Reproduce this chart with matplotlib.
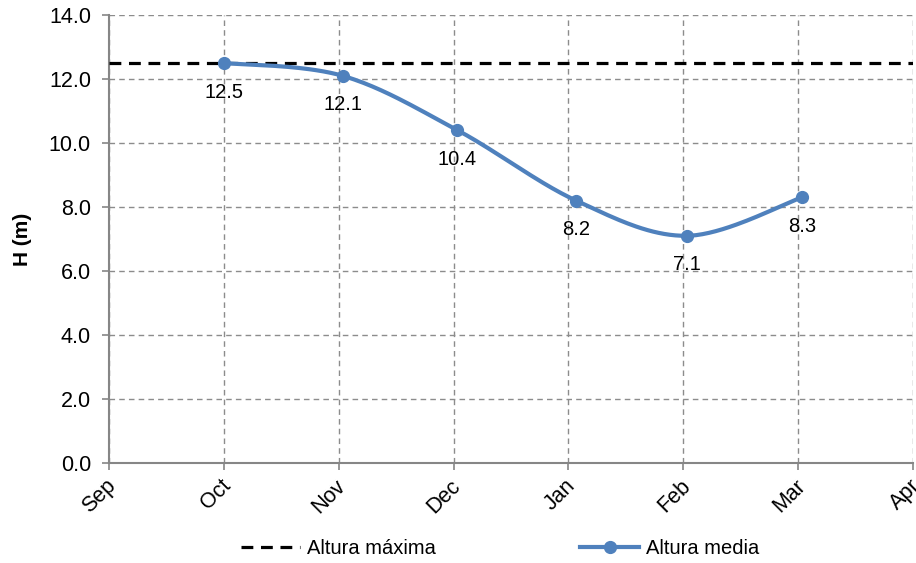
import numpy as np
import matplotlib.pyplot as plt
import matplotlib.transforms as mtransforms

plt.rcParams['font.family'] = ['Liberation Sans', 'DejaVu Sans']

# Meses del eje y medidas de altura
meses = ["Sep", "Oct", "Nov", "Dec", "Jan", "Feb", "Mar", "Apr"]
fechas_mes = [1, 2, 3, 4, 5, 6]          # mes de la medida (indice en meses)
fechas_dia = [1, 2, 2, 3, 2, 2]          # dia de la medida
altura_media = [12.5, 12.1, 10.4, 8.2, 7.1, 8.3]
altura_maxima = 12.5

azul = "#4F81BD"
gris = "#868686"

# posicion fraccionaria de cada medida dentro del mes
x = np.array(fechas_mes) + (np.array(fechas_dia) - 1) / 30.0
y = np.array(altura_media)


def suavizar(px, py, n=40):
    # curva suavizada tipo Excel (Bezier con tangentes Catmull-Rom)
    xs, ys = [], []
    pts = np.column_stack([px, py])
    for i in range(len(pts) - 1):
        p0 = pts[i - 1] if i > 0 else pts[i]
        p1 = pts[i]
        p2 = pts[i + 1]
        p3 = pts[i + 2] if i + 2 < len(pts) else pts[i + 1]
        c1 = p1 + (p2 - p0) / 6.0
        c2 = p2 - (p3 - p1) / 6.0
        t = np.linspace(0, 1, n)[:, None]
        b = ((1 - t) ** 3) * p1 + 3 * ((1 - t) ** 2) * t * c1 + 3 * (1 - t) * t ** 2 * c2 + t ** 3 * p2
        xs.extend(b[:, 0])
        ys.extend(b[:, 1])
    return np.array(xs), np.array(ys)


fig = plt.figure(figsize=(9.16, 5.63), dpi=100)
ax = fig.add_axes([0.119, 0.1776, 0.8777, 0.7958])

ax.set_xlim(0, 7)
ax.set_ylim(0, 14)

# rejilla discontinua
ax.set_xticks(range(len(meses)))
ax.set_yticks(np.arange(0, 14.1, 2))
ax.grid(True, color="#8c8c8c", linestyle=(0, (4, 3)), linewidth=1.0)
ax.set_axisbelow(True)

ax.axhline(altura_maxima, color="black", linewidth=2.3, dashes=(3.7, 2.4),
           label="Altura máxima", zorder=3)

xs, ys = suavizar(x, y)
ax.plot(xs, ys, color=azul, linewidth=3.0, zorder=4, solid_capstyle="round")
ax.plot(x, y, "o", color=azul, markersize=8.5, zorder=5)
ax.plot([], [], color=azul, linewidth=3.0, marker="o", markersize=8.5,
        label="Altura media")

for xi, yi in zip(x, y):
    ax.annotate("%.1f" % yi, (xi, yi), xytext=(0, -21), textcoords="offset points",
                ha="center", va="center", fontsize=14.5, color="black")

for lado in ["top", "right"]:
    ax.spines[lado].set_visible(False)
for lado in ["left", "bottom"]:
    ax.spines[lado].set_color(gris)
    ax.spines[lado].set_linewidth(1.5)

ax.tick_params(axis="both", direction="out", length=5, width=1.2, color=gris,
               labelsize=15.5, labelcolor="black")
ax.tick_params(axis="y", pad=8)
ax.set_yticklabels(["%.1f" % v for v in np.arange(0, 14.1, 2)])
ax.set_xticklabels(meses, rotation=45, ha="right", va="center", rotation_mode="anchor")
desplaza = mtransforms.ScaledTranslation(4 / 100, -8 / 100, fig.dpi_scale_trans)
for lbl in ax.get_xticklabels():
    lbl.set_transform(lbl.get_transform() + desplaza)

ax.set_ylabel("H (m)", fontsize=15, fontweight="bold", labelpad=12)

handles, labels = ax.get_legend_handles_labels()
fig.legend(handles, labels, loc="center", bbox_to_anchor=(0.546, 0.025), ncol=2,
           frameon=False, fontsize=14.5, columnspacing=7.2, handlelength=2.9,
           handletextpad=0.35)

plt.savefig("out.png", dpi=100)
